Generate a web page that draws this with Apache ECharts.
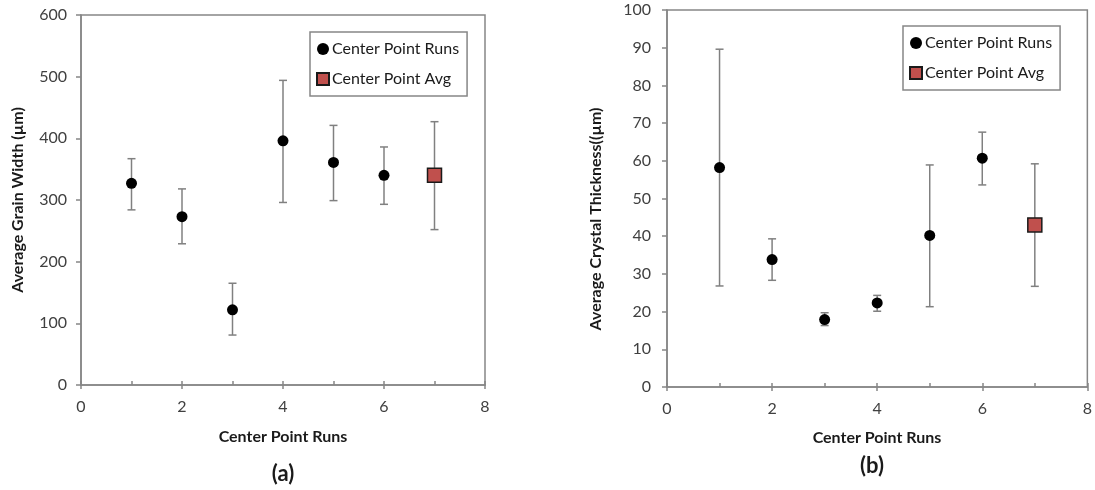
<!DOCTYPE html>
<html>
<head>
<meta charset="utf-8">
<script src="https://cdn.jsdelivr.net/npm/echarts@6/dist/echarts.min.js"></script>
<style>
  html, body { margin: 0; padding: 0; background: #fff; }
  #chart { width: 1095px; height: 490px; }
</style>
</head>
<body>
<div id="chart"></div>
<script>
// Center point runs: x positions and the pooled average position
const runs = [1, 2, 3, 4, 5, 6];
const avgRun = 7;

// (a) Average grain width, µm
const widthMean = [327, 273, 122, 396, 361, 340];
const widthAvg = 340;
const widthHigh = [367, 318, 165, 494, 421, 386, 427];
const widthLow = [284, 229, 81, 296, 299, 293, 252];

// (b) Average crystal thickness, µm
const thickMean = [58.2, 33.8, 17.9, 22.3, 40.2, 60.7];
const thickAvg = 43.0;
const thickHigh = [89.6, 39.3, 19.7, 24.3, 58.9, 67.6, 59.2];
const thickLow = [26.8, 28.3, 16.3, 20.1, 21.3, 53.6, 26.7];

const xTicks = [0, 2, 4, 6, 8];

const FONT = 'Lato, "Open Sans", sans-serif';
const AXIS = '#868686';
const BAR = '#808080';

function errorData(low, high) {
  const xs = runs.concat([avgRun]);
  return xs.map((x, i) => [x, low[i], high[i]]);
}

function renderErrorBar(params, api) {
  const x = api.value(0);
  const top = api.coord([x, api.value(2)]);
  const bot = api.coord([x, api.value(1)]);
  const cap = 4;
  const style = { stroke: BAR, lineWidth: 1.5 };
  return {
    type: 'group',
    children: [
      { type: 'line', shape: { x1: top[0], y1: top[1], x2: bot[0], y2: bot[1] }, style },
      { type: 'line', shape: { x1: top[0] - cap, y1: top[1], x2: top[0] + cap, y2: top[1] }, style },
      { type: 'line', shape: { x1: bot[0] - cap, y1: bot[1], x2: bot[0] + cap, y2: bot[1] }, style }
    ]
  };
}

function mainX(gridIndex) {
  return {
    type: 'value', gridIndex, min: 0, max: 8, interval: 2, position: 'bottom',
    axisLine: { show: true, onZero: false, lineStyle: { color: AXIS, width: 1.5 } },
    axisTick: { show: true, inside: false, length: 4, lineStyle: { color: AXIS, width: 1.5 } },
    axisLabel: {
      margin: 14, color: '#404040', fontSize: 16, fontFamily: FONT,
      formatter: v => (xTicks.indexOf(v) >= 0 ? String(v) : '')
    },
    splitLine: { show: false }
  };
}

function minorX(gridIndex) {
  return {
    type: 'value', gridIndex, min: 0, max: 8, interval: 1, position: 'bottom',
    axisLine: { show: false, onZero: false },
    axisTick: { show: true, inside: true, length: 4, lineStyle: { color: AXIS, width: 1.5 } },
    axisLabel: { show: false },
    splitLine: { show: false }
  };
}

function yAxisDef(gridIndex, max, interval, margin) {
  return {
    type: 'value', gridIndex, min: 0, max, interval,
    axisLine: { show: true, lineStyle: { color: AXIS, width: 1.5 } },
    axisTick: { show: true, inside: false, length: 5, lineStyle: { color: AXIS, width: 1.5 } },
    axisLabel: { margin, color: '#404040', fontSize: 16, fontFamily: FONT },
    splitLine: { show: false }
  };
}

function legendDef(left, top) {
  return {
    left, top, orient: 'vertical',
    backgroundColor: '#fff',
    borderColor: AXIS, borderWidth: 1.5,
    padding: [9, 8, 9, 6],
    itemGap: 14, itemWidth: 12, itemHeight: 12,
    textStyle: { fontSize: 16, color: '#1a1a1a', fontFamily: FONT, padding: [0, 0, 0, -2] },
    data: ['Center Point Runs', 'Center Point Avg']
  };
}

function panelSeries(xIdx, yIdx, mean, avg, low, high) {
  return [
    {
      type: 'custom', name: 'error', xAxisIndex: xIdx, yAxisIndex: yIdx,
      renderItem: renderErrorBar, encode: { x: 0, y: [1, 2] },
      data: errorData(low, high), z: 2, silent: true
    },
    {
      type: 'scatter', name: 'Center Point Runs', xAxisIndex: xIdx, yAxisIndex: yIdx,
      symbol: 'circle', symbolSize: 11,
      itemStyle: { color: '#000', opacity: 1 },
      data: runs.map((x, i) => [x, mean[i]]), z: 3
    },
    {
      type: 'scatter', name: 'Center Point Avg', xAxisIndex: xIdx, yAxisIndex: yIdx,
      symbol: 'rect', symbolSize: 14,
      itemStyle: { color: '#c0504d', borderColor: '#1a1a1a', borderWidth: 1.5, opacity: 1 },
      data: [[avgRun, avg]], z: 4
    }
  ];
}

function txt(x, y, text, size, rotate) {
  return {
    type: 'text', x, y, rotation: rotate ? Math.PI / 2 : 0,
    style: {
      text, fontSize: size, fontWeight: 'bold', fontFamily: FONT, fill: '#1a1a1a',
      align: 'center', verticalAlign: 'middle'
    }
  };
}

const chart = echarts.init(document.getElementById('chart'), null, { renderer: 'canvas' });

chart.setOption({
  animation: false,
  backgroundColor: '#fff',
  grid: [
    { left: 81, top: 15, width: 404, height: 370, show: true, borderColor: AXIS, borderWidth: 1.5, backgroundColor: 'transparent' },
    { left: 667, top: 10, width: 422, height: 377, show: true, borderColor: AXIS, borderWidth: 1.5, backgroundColor: 'transparent' }
  ],
  xAxis: [mainX(0), minorX(0), mainX(1), minorX(1)],
  yAxis: [yAxisDef(0, 600, 100, 14), yAxisDef(1, 100, 10, 16)],
  legend: [legendDef(310, 32), legendDef(903, 26)],
  series: []
    .concat(panelSeries(0, 0, widthMean, widthAvg, widthLow, widthHigh))
    .concat(panelSeries(2, 1, thickMean, thickAvg, thickLow, thickHigh)),
  graphic: [
    txt(18, 200, 'Average Grain Width (µm)', 16, true),
    txt(283, 437, 'Center Point Runs', 16, false),
    txt(283, 474, '(a)', 22, false),
    txt(596, 219, 'Average Crystal Thickness((µm)', 16, true),
    txt(877, 438, 'Center Point Runs', 16, false),
    txt(872, 466, '(b)', 22, false)
  ]
});
</script>
</body>
</html>
